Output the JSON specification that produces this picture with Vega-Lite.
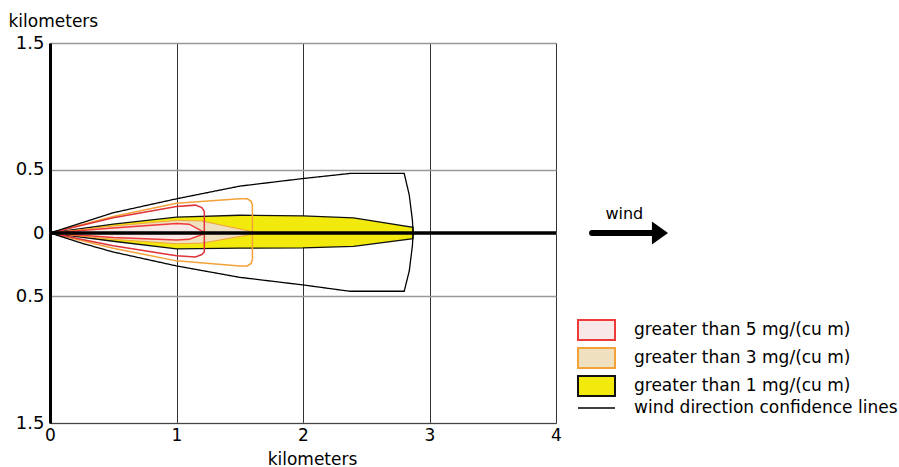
{
  "$schema": "https://vega.github.io/schema/vega-lite/v6.json",
  "width": 506,
  "height": 380,
  "autosize": "none",
  "padding": {"left": 50, "top": 43, "right": 343, "bottom": 44},
  "background": "white",
  "config": {
    "font": "DejaVu Sans",
    "view": {"stroke": "#555", "strokeWidth": 1},
    "axis": {"labelFontSize": 17, "labelColor": "black", "titleFontSize": 17, "titleFontWeight": "normal", "titleColor": "black", "ticks": false}
  },
  "datasets": {
    "plume": [
      {"shape": "yellow", "x": 0, "top": 0, "bot": 0},
      {"shape": "yellow", "x": 0.5, "top": 0.07, "bot": -0.065},
      {"shape": "yellow", "x": 1.0, "top": 0.125, "bot": -0.125},
      {"shape": "yellow", "x": 1.5, "top": 0.14, "bot": -0.12},
      {"shape": "yellow", "x": 2.0, "top": 0.135, "bot": -0.118},
      {"shape": "yellow", "x": 2.4, "top": 0.12, "bot": -0.105},
      {"shape": "yellow", "x": 2.87, "top": 0.045, "bot": -0.045},

      {"shape": "orangeOut", "x": 0, "top": 0, "bot": 0},
      {"shape": "orangeOut", "x": 0.5, "top": 0.13, "bot": -0.12},
      {"shape": "orangeOut", "x": 1.0, "top": 0.235, "bot": -0.22},
      {"shape": "orangeOut", "x": 1.5, "top": 0.27, "bot": -0.26},
      {"shape": "orangeOut", "x": 1.56, "top": 0.27, "bot": -0.26},
      {"shape": "orangeOut", "x": 1.59, "top": 0.25, "bot": -0.24},
      {"shape": "orangeOut", "x": 1.6, "top": 0.22, "bot": -0.21},

      {"shape": "orangeIn", "x": 0, "top": 0, "bot": 0},
      {"shape": "orangeIn", "x": 0.5, "top": 0.055, "bot": -0.05},
      {"shape": "orangeIn", "x": 1.0, "top": 0.1, "bot": -0.085},
      {"shape": "orangeIn", "x": 1.2, "top": 0.095, "bot": -0.08},
      {"shape": "orangeIn", "x": 1.6, "top": 0.01, "bot": -0.01},

      {"shape": "redOut", "x": 0, "top": 0, "bot": 0},
      {"shape": "redOut", "x": 0.5, "top": 0.12, "bot": -0.1},
      {"shape": "redOut", "x": 1.0, "top": 0.21, "bot": -0.18},
      {"shape": "redOut", "x": 1.15, "top": 0.22, "bot": -0.19},
      {"shape": "redOut", "x": 1.2, "top": 0.2, "bot": -0.17},
      {"shape": "redOut", "x": 1.22, "top": 0.17, "bot": -0.15},

      {"shape": "redIn", "x": 0, "top": 0, "bot": 0},
      {"shape": "redIn", "x": 0.5, "top": 0.04, "bot": -0.035},
      {"shape": "redIn", "x": 1.0, "top": 0.075, "bot": -0.055},
      {"shape": "redIn", "x": 1.1, "top": 0.07, "bot": -0.05},
      {"shape": "redIn", "x": 1.22, "top": 0.005, "bot": -0.005}
    ],
    "conf": [
      {"ord": 1, "x": 0, "top": 0},
      {"ord": 2, "x": 0.25, "top": 0.08},
      {"ord": 3, "x": 0.5, "top": 0.16},
      {"ord": 4, "x": 1.0, "top": 0.27},
      {"ord": 5, "x": 1.5, "top": 0.37},
      {"ord": 6, "x": 2.0, "top": 0.43},
      {"ord": 7, "x": 2.37, "top": 0.47},
      {"ord": 8, "x": 2.8, "top": 0.47},
      {"ord": 9, "x": 2.84, "top": 0.3},
      {"ord": 10, "x": 2.865, "top": 0.1},
      {"ord": 11, "x": 2.87, "top": 0},
      {"ord": 12, "x": 2.865, "top": -0.1},
      {"ord": 13, "x": 2.84, "top": -0.3},
      {"ord": 14, "x": 2.8, "top": -0.46},
      {"ord": 15, "x": 2.37, "top": -0.46},
      {"ord": 16, "x": 2.0, "top": -0.41},
      {"ord": 17, "x": 1.5, "top": -0.35},
      {"ord": 18, "x": 1.0, "top": -0.26},
      {"ord": 19, "x": 0.5, "top": -0.15},
      {"ord": 20, "x": 0.25, "top": -0.08},
      {"ord": 21, "x": 0, "top": 0}
    ],
    "levels": [
      {"shape": "redIn", "level": "greater than 5 mg/(cu m)"},
      {"shape": "orangeIn", "level": "greater than 3 mg/(cu m)"},
      {"shape": "yellow", "level": "greater than 1 mg/(cu m)"}
    ],
    "center": [{"x0": 0, "x1": 4, "y": 0}],
    "arrow": [{"x0": 4.285, "x1": 4.78, "xh": 4.822, "xt": 4.54, "y": 0, "yt": 0.15, "label": "wind"}]
  },
  "encoding": {
    "x": {"field": "x", "type": "quantitative", "scale": {"domain": [0, 4], "nice": false, "zero": false},
      "axis": {"values": [0, 1, 2, 3, 4], "grid": true, "gridColor": "#333", "gridWidth": 1, "domainColor": "#444", "labelFlush": false, "labelPadding": 4, "title": "kilometers", "titleX": 262, "titleY": 36, "titleBaseline": "middle", "titleAlign": "center"}},
    "y": {"field": "top", "type": "quantitative", "scale": {"domain": [-1.5, 1.5], "nice": false, "zero": false},
      "axis": {"values": [-1.5, -0.5, 0, 0.5, 1.5], "grid": true, "gridColor": "#999", "gridWidth": 1.5, "domainColor": "black", "domainWidth": 3, "labelPadding": 6, "labelFontSize": 18, "labelExpr": "datum.value == 0 ? '0' : format(abs(datum.value), '.1f')", "title": "kilometers", "titleAngle": 0, "titleX": -42, "titleY": -22, "titleAlign": "left", "titleBaseline": "middle"}}
  },
  "layer": [
    {
      "data": {"name": "plume"},
      "transform": [{"filter": "datum.shape == 'yellow'"}, {"lookup": "shape", "from": {"data": {"name": "levels"}, "key": "shape", "fields": ["level"]}}],
      "mark": {"type": "area", "strokeWidth": 1.3, "fillOpacity": 1},
      "encoding": {
        "y2": {"field": "bot"},
        "fill": {"field": "level", "type": "nominal",
          "scale": {"domain": ["greater than 5 mg/(cu m)", "greater than 3 mg/(cu m)", "greater than 1 mg/(cu m)"], "range": ["#f8e8e8", "#efe1c0", "#f2ea0c"]},
          "legend": {"title": null, "orient": "none", "legendX": 535.5, "legendY": 276, "padding": 0, "symbolType": "M-1.85,-1H1.85V1H-1.85Z", "symbolSize": 400, "symbolStrokeWidth": 2, "symbolOpacity": 1, "labelOffset": 26.5, "rowPadding": 0, "labelFontSize": 17, "labelColor": "black", "labelLimit": 400}},
        "stroke": {"field": "level", "type": "nominal",
          "scale": {"domain": ["greater than 5 mg/(cu m)", "greater than 3 mg/(cu m)", "greater than 1 mg/(cu m)"], "range": ["#ee3a3a", "#f3a23a", "#111111"]},
          "legend": {"title": null, "orient": "none", "legendX": 535.5, "legendY": 276, "padding": 0, "symbolType": "M-1.85,-1H1.85V1H-1.85Z", "symbolSize": 400, "symbolStrokeWidth": 2, "symbolOpacity": 1, "labelOffset": 26.5, "rowPadding": 0, "labelFontSize": 17, "labelColor": "black", "labelLimit": 400}}
      }
    },
    {
      "data": {"name": "plume"},
      "transform": [{"filter": "datum.shape == 'orangeIn'"}, {"lookup": "shape", "from": {"data": {"name": "levels"}, "key": "shape", "fields": ["level"]}}],
      "mark": {"type": "area", "strokeWidth": 1, "fillOpacity": 1},
      "encoding": {
        "y2": {"field": "bot"},
        "fill": {"field": "level", "type": "nominal"},
        "stroke": {"field": "level", "type": "nominal"}
      }
    },
    {
      "data": {"name": "plume"},
      "transform": [{"filter": "datum.shape == 'redIn'"}, {"lookup": "shape", "from": {"data": {"name": "levels"}, "key": "shape", "fields": ["level"]}}],
      "mark": {"type": "area", "strokeWidth": 1.5, "fillOpacity": 1},
      "encoding": {
        "y2": {"field": "bot"},
        "fill": {"field": "level", "type": "nominal"},
        "stroke": {"field": "level", "type": "nominal"}
      }
    },
    {
      "data": {"name": "plume"},
      "transform": [{"filter": "datum.shape == 'orangeOut'"}],
      "mark": {"type": "area", "fill": "transparent", "stroke": "#f3a23a", "strokeWidth": 1.5},
      "encoding": {"y2": {"field": "bot"}}
    },
    {
      "data": {"name": "plume"},
      "transform": [{"filter": "datum.shape == 'redOut'"}],
      "mark": {"type": "area", "fill": "transparent", "stroke": "#de3338", "strokeWidth": 1.5},
      "encoding": {"y2": {"field": "bot"}}
    },
    {
      "data": {"name": "conf"},
      "transform": [{"calculate": "'wind direction confidence lines'", "as": "line"}],
      "mark": {"type": "line", "color": "black", "strokeWidth": 1.3},
      "encoding": {
        "order": {"field": "ord", "type": "quantitative"},
        "strokeDash": {"field": "line", "type": "nominal", "scale": {"range": [[1, 0]]},
          "legend": {"title": null, "orient": "none", "legendX": 527, "legendY": 345.5, "padding": 0, "symbolType": "stroke", "symbolSize": 1369, "symbolStrokeColor": "black", "symbolStrokeWidth": 1.5, "labelOffset": 18, "labelFontSize": 17, "labelColor": "black", "labelLimit": 400}}
      }
    },
    {
      "data": {"name": "center"},
      "mark": {"type": "rule", "color": "black", "strokeWidth": 3.5},
      "encoding": {"x": {"field": "x0", "type": "quantitative"}, "x2": {"field": "x1"}, "y": {"field": "y", "type": "quantitative"}}
    },
    {
      "data": {"name": "arrow"},
      "mark": {"type": "rule", "color": "black", "strokeWidth": 6, "strokeCap": "round"},
      "encoding": {"x": {"field": "x0", "type": "quantitative"}, "x2": {"field": "x1"}, "y": {"field": "y", "type": "quantitative"}}
    },
    {
      "data": {"name": "arrow"},
      "mark": {"type": "point", "shape": "M-0.7,-1L0.7,0L-0.7,1Z", "filled": true, "color": "black", "size": 529, "opacity": 1},
      "encoding": {"x": {"field": "xh", "type": "quantitative"}, "y": {"field": "y", "type": "quantitative"}}
    },
    {
      "data": {"name": "arrow"},
      "mark": {"type": "text", "fontSize": 16, "color": "black", "baseline": "middle", "align": "center"},
      "encoding": {"x": {"field": "xt", "type": "quantitative"}, "y": {"field": "yt", "type": "quantitative"}, "text": {"field": "label"}}
    }
  ]
}
